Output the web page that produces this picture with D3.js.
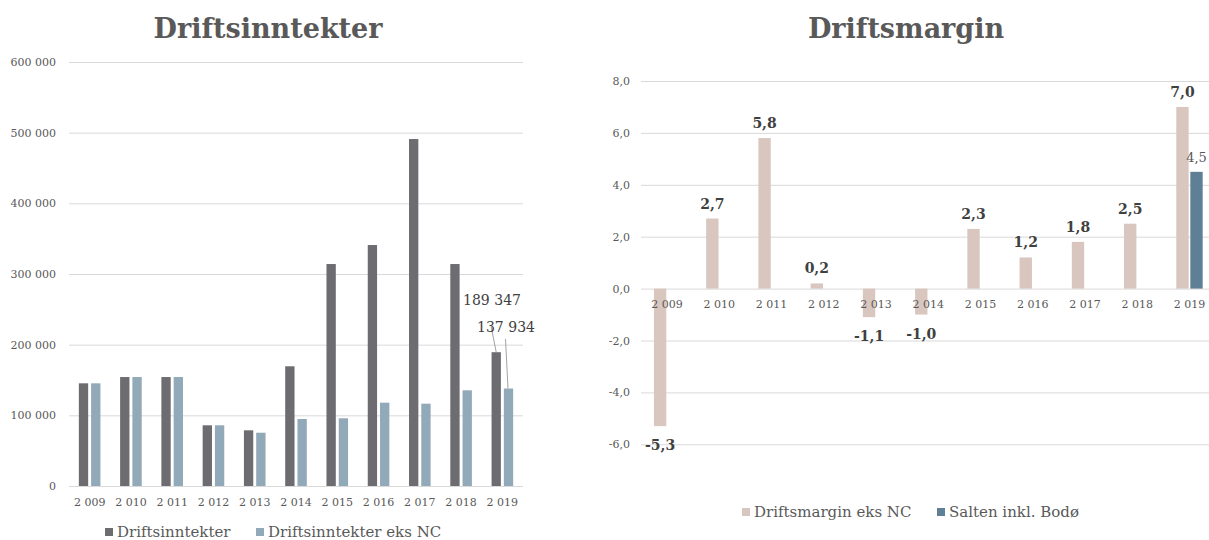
<!DOCTYPE html>
<html>
<head>
<meta charset="utf-8">
<script src="https://cdn.jsdelivr.net/npm/d3@7"></script>
<style>
  html, body { margin: 0; padding: 0; background: #fff; }
  svg { display: block; font-family: "DejaVu Serif", serif; }
</style>
</head>
<body>
<svg id="chart" width="1209" height="540"></svg>
<script>
// ---------- DATA ----------
const years = [2009, 2010, 2011, 2012, 2013, 2014, 2015, 2016, 2017, 2018, 2019];
const driftsinntekter = [145300, 154200, 154200, 85900, 78800, 169400, 314100, 341000, 491000, 314100, 189347];
const driftsinntekterEksNC = [145300, 154200, 154200, 85900, 75400, 94800, 95800, 117900, 116500, 135400, 137934];
const leftTicks = [0, 100000, 200000, 300000, 400000, 500000, 600000];
const leftSeriesNames = ["Driftsinntekter", "Driftsinntekter eks NC"];

const driftsmarginEksNC = [-5.3, 2.7, 5.8, 0.2, -1.1, -1.0, 2.3, 1.2, 1.8, 2.5, 7.0];
const saltenYears = [2019];
const saltenValues = [4.5];
const rightTicks = [-6, -4, -2, 0, 2, 4, 6, 8];
const rightSeriesNames = ["Driftsmargin eks NC", "Salten inkl. Bodø"];

// ---------- STYLE ----------
const C = {
  dark: "#6d6c71", light: "#91a9b9", pink: "#d8c6bf", blue: "#5f7f96",
  grid: "#d9d9d9", text: "#595959", label: "#404040"
};
const loc = d3.formatLocale({ decimal: ",", thousands: " ", grouping: [3], currency: ["", ""], minus: "-" });
const fmtThousands = loc.format(",d");
const fmtOne = loc.format(".1f");

const svg = d3.select("#chart");

// ================= LEFT CHART =================
{
  const x = d3.scaleBand().domain(years).range([69, 523]);
  const y = d3.scaleLinear().domain([0, 600000]).range([486, 62]);
  const sub = d3.scaleBand().domain([0, 1]).range([-10.8, 10.8]).paddingInner(0.24);

  const g = svg.append("g");
  g.append("text").attr("x", 268).attr("y", 38).attr("text-anchor", "middle")
    .attr("font-size", 27).attr("font-weight", "bold").attr("fill", C.text)
    .text("Driftsinntekter");

  const yAxis = g.append("g").attr("transform", "translate(69,0)")
    .call(d3.axisLeft(y).tickValues(leftTicks).tickFormat(fmtThousands)
      .tickSize(-(523 - 69)).tickPadding(13));
  yAxis.select(".domain").remove();
  yAxis.selectAll(".tick line").attr("stroke", C.grid);
  yAxis.selectAll(".tick text").attr("fill", C.text).attr("font-size", 11)
    .attr("font-family", "DejaVu Serif");

  const xAxis = g.append("g").attr("transform", "translate(0,486)")
    .call(d3.axisBottom(x).tickFormat(fmtThousands).tickSize(0).tickPadding(12));
  xAxis.select(".domain").remove();
  xAxis.selectAll(".tick text").attr("fill", C.text).attr("font-size", 11)
    .attr("font-family", "DejaVu Serif");

  const series = [driftsinntekter, driftsinntekterEksNC];
  const colors = [C.dark, C.light];
  series.forEach((vals, si) => {
    g.append("g").selectAll("rect").data(years.map((yr, i) => ({ yr, v: vals[i] })))
      .join("rect")
      .attr("x", d => x(d.yr) + x.bandwidth() / 2 + sub(si))
      .attr("width", sub.bandwidth())
      .attr("y", d => y(d.v))
      .attr("height", d => y(0) - y(d.v))
      .attr("fill", colors[si]);
  });

  // labels for 2019 with leader lines
  const last = years.length - 1;
  const cx0 = x(years[last]) + x.bandwidth() / 2 + sub(0) + sub.bandwidth() / 2;
  const cx1 = x(years[last]) + x.bandwidth() / 2 + sub(1) + sub.bandwidth() / 2;
  g.append("line").attr("x1", cx0 - 5).attr("y1", 327).attr("x2", cx0).attr("y2", y(driftsinntekter[last]))
    .attr("stroke", "#8c8c8c").attr("stroke-width", 0.8);
  g.append("line").attr("x1", cx1 - 3).attr("y1", 339).attr("x2", cx1 - 0.5).attr("y2", y(driftsinntekterEksNC[last]))
    .attr("stroke", "#8c8c8c").attr("stroke-width", 0.8);
  g.append("text").attr("x", 492).attr("y", 305).attr("text-anchor", "middle")
    .attr("font-size", 14).attr("fill", C.label).text(fmtThousands(driftsinntekter[last]));
  g.append("text").attr("x", 506).attr("y", 332).attr("text-anchor", "middle")
    .attr("font-size", 14).attr("fill", C.label).text(fmtThousands(driftsinntekterEksNC[last]));

  // legend
  const lg = g.append("g");
  const lx = [105, 256];
  leftSeriesNames.forEach((name, i) => {
    lg.append("rect").attr("x", lx[i]).attr("y", 528).attr("width", 8).attr("height", 8).attr("fill", colors[i]);
    lg.append("text").attr("x", lx[i] + 12).attr("y", 536.5).attr("font-size", 15)
      .attr("fill", C.text).text(name);
  });
}

// ================= RIGHT CHART =================
{
  const x = d3.scaleBand().domain(years).range([641, 1215.6]);
  const y = d3.scaleLinear().domain([-6, 8]).range([444.3, 81]);
  const sub = d3.scaleBand().domain([0, 1]).range([-13.2, 13.2]).paddingInner(0.12);

  const g = svg.append("g");
  g.append("text").attr("x", 906).attr("y", 38).attr("text-anchor", "middle")
    .attr("font-size", 27).attr("font-weight", "bold").attr("fill", C.text)
    .text("Driftsmargin");

  const yAxis = g.append("g").attr("transform", "translate(641,0)")
    .call(d3.axisLeft(y).tickValues(rightTicks).tickFormat(fmtOne)
      .tickSize(-(1215.6 - 641)).tickPadding(11));
  yAxis.select(".domain").remove();
  yAxis.selectAll(".tick line").attr("stroke", C.grid);
  yAxis.selectAll(".tick text").attr("fill", C.text).attr("font-size", 11)
    .attr("font-family", "DejaVu Serif");

  const bx = (yr, si) => x(yr) + x.bandwidth() / 2 + sub(si);

  const mdata = years.map((yr, i) => ({ yr, v: driftsmarginEksNC[i] }));
  g.append("g").selectAll("rect").data(mdata).join("rect")
    .attr("x", d => bx(d.yr, 0))
    .attr("width", sub.bandwidth())
    .attr("y", d => y(Math.max(0, d.v)))
    .attr("height", d => Math.abs(y(d.v) - y(0)))
    .attr("fill", C.pink);

  const sdata = saltenYears.map((yr, i) => ({ yr, v: saltenValues[i] }));
  g.append("g").selectAll("rect").data(sdata).join("rect")
    .attr("x", d => bx(d.yr, 1))
    .attr("width", sub.bandwidth())
    .attr("y", d => y(Math.max(0, d.v)))
    .attr("height", d => Math.abs(y(d.v) - y(0)))
    .attr("fill", C.blue);

  const xAxis = g.append("g").attr("transform", `translate(0,${y(0)})`)
    .call(d3.axisBottom(x).tickFormat(fmtThousands).tickSize(0).tickPadding(12));
  xAxis.select(".domain").remove();
  xAxis.selectAll(".tick text").attr("fill", C.text).attr("font-size", 11)
    .attr("font-family", "DejaVu Serif");

  // data labels
  g.append("g").selectAll("text").data(mdata).join("text")
    .attr("x", d => bx(d.yr, 0) + sub.bandwidth() / 2)
    .attr("y", d => d.v >= 0 ? y(d.v) - 10 : y(d.v) + 24)
    .attr("text-anchor", "middle").attr("font-size", 14).attr("font-weight", "bold")
    .attr("fill", C.label).text(d => fmtOne(d.v));
  g.append("g").selectAll("text").data(sdata).join("text")
    .attr("x", d => bx(d.yr, 1) + sub.bandwidth() / 2)
    .attr("y", d => y(d.v) - 10)
    .attr("text-anchor", "middle").attr("font-size", 13)
    .attr("fill", C.text).text(d => fmtOne(d.v));

  // legend
  const colors = [C.pink, C.blue];
  const lx = [742, 937];
  rightSeriesNames.forEach((name, i) => {
    g.append("rect").attr("x", lx[i]).attr("y", 508).attr("width", 8).attr("height", 8).attr("fill", colors[i]);
    g.append("text").attr("x", lx[i] + 12).attr("y", 517).attr("font-size", 15)
      .attr("fill", C.text).text(name);
  });
}
</script>
</body>
</html>
